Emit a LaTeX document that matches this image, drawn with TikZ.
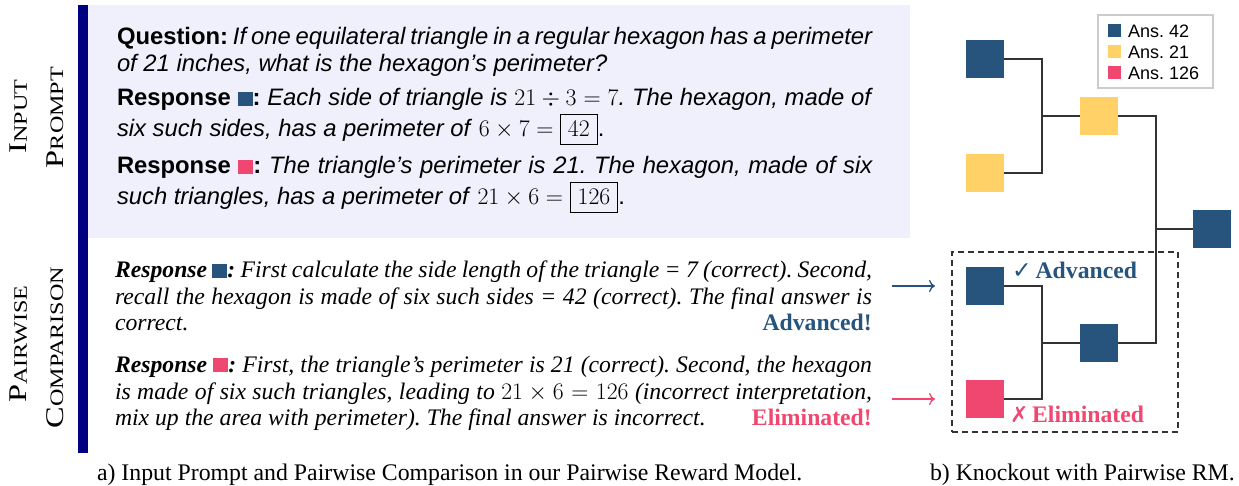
\RequirePackage{fix-cm}
\documentclass[tikz,border=0pt]{standalone}
\usepackage{amsmath}
\usepackage[no-math]{fontspec}
\newfontfamily\helv{Liberation Sans}
\newfontfamily\tms{Liberation Serif}
\newfontfamily\dejavu{DejaVu Sans}
\usetikzlibrary{arrows.meta}
\definecolor{cnavy}{HTML}{26547C}
\definecolor{cyel}{HTML}{FFD166}
\definecolor{cpink}{HTML}{EF476F}
\definecolor{cbar}{HTML}{000080}
\definecolor{clav}{HTML}{F0F0FC}
\definecolor{cline}{HTML}{333333}
\definecolor{clegend}{HTML}{CCCCCC}
\frenchspacing
\setlength{\fboxsep}{7pt}
\setlength{\fboxrule}{0.9pt}
\newcommand\sqbox[1]{\textcolor{#1}{\rule{15pt}{14pt}}}
\newcommand\hsz{\fontsize{23.8}{28}\selectfont}
\newcommand\tsz{\fontsize{23.7}{26}\selectfont}
\newcommand\jl[1]{\hbox to 756pt{#1}}
\newcommand\jt[1]{\hbox to 757pt{#1}}
\newcommand\fsc[2]{\scalebox{1.27}[1]{\tms\fontsize{25.5}{28}\selectfont #1\fontsize{19}{20}\selectfont #2}}
\tikzset{
  txt/.style={anchor=base west, inner sep=0pt, outer sep=0pt},
  sq/.style={minimum size=38pt, inner sep=0pt, outer sep=0pt, fill=#1},
  conn/.style={draw=cline, line width=1.1pt},
  lab/.style={rotate=90, anchor=base, inner sep=0pt},
  lsq/.style={minimum size=13pt, inner sep=0pt, fill=#1},
  ltxt/.style={anchor=west, inner sep=0pt, font=\helv\fontsize{18}{20}\selectfont},
  arr/.style={line width=1.3pt, -{To[length=6pt,width=12pt]}}
}
\begin{document}
\begin{tikzpicture}[x=1pt,y=-1pt]
\useasboundingbox (0,0) rectangle (1239,486);
% background panels
\fill[clav] (88,5) rectangle (910,238);
\fill[cbar] (78,5) rectangle (88,453);
% side labels
\node[lab] (l1) at (27,116.5) {\fsc{I}{NPUT}};
\node[lab] (l2) at (63,117.5) {\fsc{P}{ROMPT}};
\node[lab] (l3) at (27,344) {\fsc{P}{AIRWISE}};
\node[lab] (l4) at (63,347.5) {\fsc{C}{OMPARISON}};
% input prompt
\node[txt] (q1) at (117,45) {\helv\hsz\jl{\textbf{Question:} \textit{If one equilateral triangle in a regular hexagon has a perimeter}}};
\node[txt] (q2) at (117,72) {\helv\hsz\textit{of 21 inches, what is the hexagon’s perimeter?}};
\node[txt] (q3) at (117,106) {\helv\hsz\jl{\textbf{Response \sqbox{cnavy}:} \textit{Each side of triangle is} $21\div3=7$\textit{. The hexagon, made of}}};
\node[txt] (q4) at (117,137) {\helv\hsz\textit{six such sides, has a perimeter of} $6\times7=\boxed{42}$.};
\node[txt] (q5) at (117,174) {\helv\hsz\jl{\textbf{Response \sqbox{cpink}:} \textit{The triangle’s perimeter is 21. The hexagon, made of six}}};
\node[txt] (q6) at (117,205) {\helv\hsz\textit{such triangles, has a perimeter of} $21\times6=\boxed{126}$.};
% pairwise comparison
\node[txt] (p1) at (115,278) {\tms\tsz\jt{\textbf{\textit{Response} \sqbox{cnavy}\textit{:}} \textit{First calculate the side length of the triangle = 7 (correct). Second,}}};
\node[txt] (p2) at (115,304) {\tms\tsz\jt{\textit{recall the hexagon is made of six such sides = 42 (correct). The final answer is}}};
\node[txt] (p3) at (115,330) {\tms\tsz\textit{correct.}};
\node[anchor=base east, inner sep=0pt, text=cnavy] (adv) at (872,330) {\tms\tsz\textbf{Advanced!}};
\node[txt] (p4) at (115,372) {\tms\tsz\jt{\textbf{\textit{Response} \sqbox{cpink}\textit{:}} \textit{First, the triangle’s perimeter is 21 (correct). Second, the hexagon}}};
\node[txt] (p5) at (115,399) {\tms\tsz\jt{\textit{is made of six such triangles, leading to} $21\times6=126$ \textit{(incorrect interpretation,}}};
\node[txt] (p6) at (115,425) {\tms\tsz\textit{mix up the area with perimeter). The final answer is incorrect.}};
\node[anchor=base east, inner sep=0pt, text=cpink] (elim) at (872,425) {\tms\tsz\textbf{Eliminated!}};
% captions
\node[txt] (capa) at (97,480) {\tms\fontsize{23.8}{26}\selectfont a) Input Prompt and Pairwise Comparison in our Pairwise Reward Model.};
\node[txt] (capb) at (930,480) {\tms\fontsize{23.8}{26}\selectfont b) Knockout with Pairwise RM.};
% legend
\node[draw=clegend, line width=2pt, minimum width=115pt, minimum height=73pt, inner sep=0pt] (leg) at (1155.5,51.5) {};
\node[lsq=cnavy] (lg1) at (1114.5,31) {};
\node[lsq=cyel] (lg2) at (1114.5,52) {};
\node[lsq=cpink] (lg3) at (1114.5,73) {};
\node[ltxt] (lt1) at (1128,31) {Ans. 42};
\node[ltxt] (lt2) at (1128,52) {Ans. 21};
\node[ltxt] (lt3) at (1128,73) {Ans. 126};
% bracket squares
\node[sq=cnavy] (A) at (985,59) {};
\node[sq=cyel] (B) at (985,173) {};
\node[sq=cyel] (C) at (1099,116) {};
\node[sq=cnavy] (D) at (1212,229) {};
\node[sq=cnavy] (E) at (985,286) {};
\node[sq=cpink] (F) at (985,399) {};
\node[sq=cnavy] (G) at (1099,343) {};
\coordinate (j1) at (1042,116);
\coordinate (j2) at (1156,229);
\coordinate (j3) at (1042,343);
\draw[conn] (A.east) -| (j1) |- (B.east);
\draw[conn] (j1) -- (C.west);
\draw[conn] (C.east) -| (j2) |- (G.east);
\draw[conn] (j2) -- (D.west);
\draw[conn] (E.east) -| (j3) |- (F.east);
\draw[conn] (j3) -- (G.west);
% dashed box
\node[draw=cline, dashed, dash pattern=on 6pt off 4pt, line width=1.2pt, minimum width=226pt, minimum height=180pt, inner sep=0pt] (dbox) at (1065,342) {};
\node[txt, text=cnavy] (advl) at (1012,279) {\dejavu\fontsize{23.5}{26}\selectfont ✓\,\tms\fontsize{23.7}{26}\selectfont\textbf{Advanced}};
\node[txt, text=cpink] (eliml) at (1010,422) {\dejavu\bfseries\fontsize{22}{26}\selectfont ✗\,\tms\fontsize{23.7}{26}\selectfont\textbf{Eliminated}};
% arrows
\coordinate (a1s) at (892,286);
\coordinate (a1e) at (935,286);
\coordinate (a2s) at (892,399);
\coordinate (a2e) at (935,399);
\draw[arr, cnavy] (a1s) -- (a1e);
\draw[arr, cpink] (a2s) -- (a2e);
\end{tikzpicture}
\end{document}
